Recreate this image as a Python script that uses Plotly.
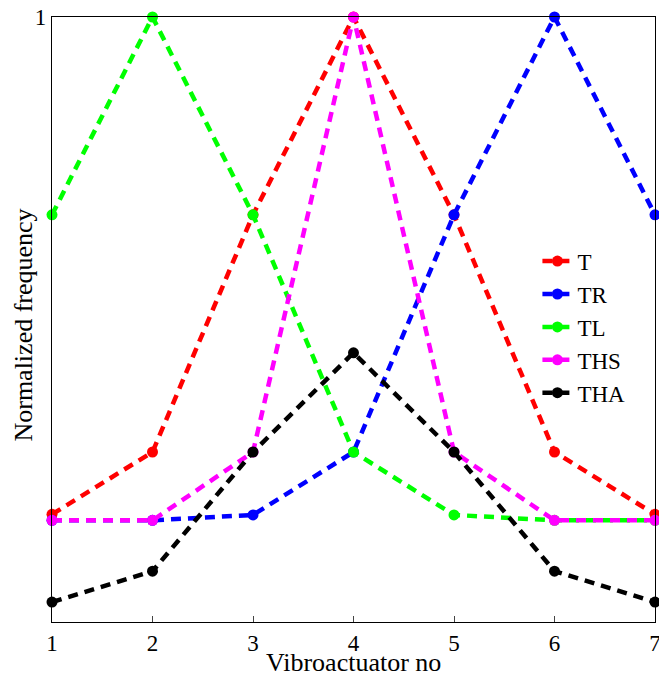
import plotly.graph_objects as go

x_vals = [1, 2, 3, 4, 5, 6, 7]
series_names = ["T", "TR", "TL", "THS", "THA"]
T = [0.178, 0.281, 0.673, 1.0, 0.673, 0.281, 0.178]
TR = [0.168, 0.168, 0.177, 0.281, 0.673, 1.0, 0.673]
TL = [0.673, 1.0, 0.673, 0.281, 0.177, 0.168, 0.168]
THS = [0.168, 0.168, 0.281, 1.0, 0.281, 0.168, 0.168]
THA = [0.033, 0.084, 0.281, 0.445, 0.281, 0.084, 0.033]
colors = ["#ff0000", "#0000ff", "#00ff00", "#ff00ff", "#000000"]
x_ticks = [1, 2, 3, 4, 5, 6, 7]
y_ticks = [1]

FONT = "Liberation Serif, Times New Roman, serif"

fig = go.Figure()
for name, vals, c in zip(series_names, [T, TR, TL, THS, THA], colors):
    fig.add_trace(go.Scatter(
        x=x_vals, y=vals, name=name, mode="lines+markers",
        line=dict(color=c, width=4.5, dash="10px,7px"),
        marker=dict(color=c, size=11),
        cliponaxis=False,
    ))

fig.update_layout(
    width=659, height=677,
    margin=dict(l=52, r=4, t=17, b=55),
    paper_bgcolor="white", plot_bgcolor="white",
    font=dict(family=FONT, size=23, color="black"),
    showlegend=True,
    legend=dict(x=0.805, y=0.632, xanchor="left", yanchor="top",
                bgcolor="rgba(0,0,0,0)", borderwidth=0,
                font=dict(family=FONT, size=23), tracegroupgap=0),
    xaxis=dict(range=[1, 7], tickvals=x_ticks, ticks="inside", ticklen=6,
               showgrid=False, zeroline=False, showline=True, linecolor="black",
               linewidth=1.2, mirror=True, automargin=False,
               ticklabeloverflow="allow",
               tickfont=dict(family=FONT, size=23)),
    yaxis=dict(range=[0, 1], tickvals=y_ticks, ticks="", showgrid=False,
               zeroline=False, showline=True, linecolor="black", linewidth=1.2,
               mirror=True, automargin=False,
               ticklabeloverflow="allow",
               tickfont=dict(family=FONT, size=23)),
    annotations=[
        dict(text="Vibroactuator no", xref="paper", yref="paper", x=0.5, y=0,
             yshift=-40, xanchor="center", yanchor="middle", showarrow=False,
             font=dict(family=FONT, size=26)),
        dict(text="Normalized frequency", xref="paper", yref="paper", x=0, y=0.49,
             xshift=-28, xanchor="center", yanchor="middle", showarrow=False,
             textangle=-90, font=dict(family=FONT, size=26)),
    ],
)

# remove the page's default body margin so the 659x677 figure fills the window exactly
fig.write_html("out.html",
               config={"displayModeBar": False},
               post_script="document.body.style.margin='0';document.body.style.overflow='hidden';")
